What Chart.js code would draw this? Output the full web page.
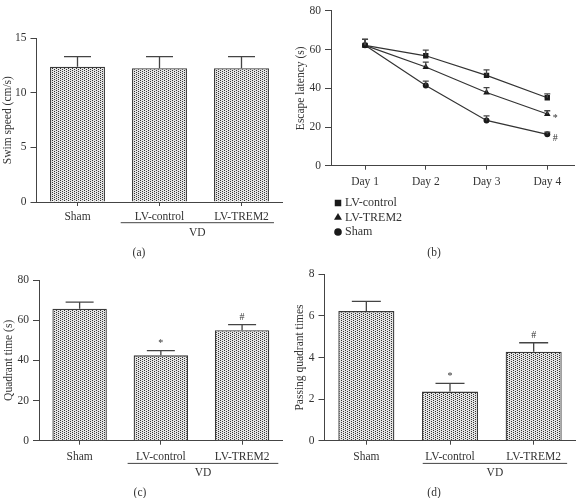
<!DOCTYPE html>
<html>
<head>
<meta charset="utf-8">
<script src="https://cdn.jsdelivr.net/npm/chart.js@4.4.0/dist/chart.umd.min.js"></script>
<style>
  body { margin: 0; background: #fff; }
  #wrap { position: relative; width: 578px; height: 498px; }
  canvas { position: absolute; }
</style>
</head>
<body>
<div id="wrap">
  <canvas id="chartA" width="289" height="260" style="left:0;top:0;width:289px;height:260px"></canvas>
  <canvas id="chartB" width="289" height="260" style="left:289px;top:0;width:289px;height:260px"></canvas>
  <canvas id="chartC" width="289" height="238" style="left:0;top:260px;width:289px;height:238px"></canvas>
  <canvas id="chartD" width="289" height="238" style="left:289px;top:260px;width:289px;height:238px"></canvas>
</div>
<script>
// groups for the bar panels
const groups = ['Sham', 'LV-control', 'LV-TREM2'];

// (a) swim speed
const swimSpeed = [12.4, 12.25, 12.25];
const swimSpeedErr = [0.92, 1.07, 1.07];

// (b) escape latency per day
const days = ['Day 1', 'Day 2', 'Day 3', 'Day 4'];
const latencyControl = [62.2, 56.8, 46.7, 35.1];
const latencyControlErr = [3.1, 2.9, 2.8, 2.0];
const latencyTrem2 = [62.2, 51.0, 37.8, 26.7];
const latencyTrem2Err = [3.1, 2.5, 2.5, 1.7];
const latencySham = [62.2, 41.4, 23.4, 16.2];
const latencyShamErr = [3.1, 2.3, 2.3, 1.1];
const latencyTrem2Marks = ['', '', '', '*'];
const latencyShamMarks = ['', '', '', '#'];

// (c) quadrant time
const quadrantTime = [65.7, 42.5, 55.0];
const quadrantTimeErr = [3.3, 2.3, 2.8];

// (d) passing quadrant times
const passingTimes = [6.23, 2.36, 4.28];
const passingTimesErr = [0.47, 0.4, 0.43];

const groupMarks = ['', '*', '#'];

const FONT = "'Liberation Serif', 'DejaVu Serif', serif";
const FS = 11.5;
const INK = '#333';
const AXIS = '#444';

function dotPattern() {
    // staggered stipple, like the dotted fill in the figure
    const c = document.createElement('canvas');
    c.width = 4; c.height = 4;
    const g = c.getContext('2d');
    g.fillStyle = '#e4e4e4';
    g.fillRect(0, 0, 4, 4);
    g.fillStyle = '#333';
    g.fillRect(0, 0, 1, 1);
    g.fillRect(2, 1, 1, 1);
    g.fillRect(0, 2, 1, 1);
    g.fillRect(2, 3, 1, 1);
    return g.createPattern(c, 'repeat');
}

// vertical error bars (upward) + significance marks
const errorBarPlugin = {
    id: 'errorBars',
    afterDatasetsDraw(chart, args, opts) {
        const ctx = chart.ctx;
        const yScale = chart.scales.y;
        ctx.save();
        ctx.strokeStyle = AXIS;
        ctx.lineWidth = 1.3;
        chart.data.datasets.forEach((ds, di) => {
            if (!ds.errors) return;
            const meta = chart.getDatasetMeta(di);
            meta.data.forEach((el, i) => {
                const raw = ds.data[i];
                const val = typeof raw === 'object' ? raw.y : raw;
                const top = yScale.getPixelForValue(val + ds.errors[i]);
                ctx.beginPath();
                ctx.moveTo(el.x, el.y);
                ctx.lineTo(el.x, top);
                ctx.moveTo(el.x - opts.cap, top);
                ctx.lineTo(el.x + opts.cap, top);
                ctx.stroke();
                const mark = ds.marks && ds.marks[i];
                if (mark) {
                    ctx.fillStyle = INK;
                    ctx.font = '10px ' + FONT;
                    ctx.textAlign = 'center';
                    ctx.textBaseline = 'middle';
                    const y0 = opts.markAbove ? top : el.y;
                    ctx.fillText(mark, el.x + opts.markDx, y0 + opts.markDy);
                }
            });
        });
        ctx.restore();
    }
};

// "VD" bracket under the two LV groups, plus panel letter
const bracketPlugin = {
    id: 'vdBracket',
    afterDraw(chart, args, opts) {
        const ctx = chart.ctx;
        ctx.save();
        ctx.fillStyle = INK;
        ctx.font = FS + 'px ' + FONT;
        ctx.textAlign = 'center';
        ctx.textBaseline = 'middle';
        if (opts.label) {
            const x = chart.scales.x;
            const p0 = x.getPixelForValue(0);
            const step = x.getPixelForValue(1) - p0;
            const x0 = p0 + opts.from * step;
            const x1 = p0 + opts.to * step;
            const y = x.top + opts.dy;
            ctx.strokeStyle = AXIS;
            ctx.lineWidth = 1;
            ctx.beginPath();
            ctx.moveTo(x0, y); ctx.lineTo(x1, y);
            ctx.stroke();
            ctx.fillText(opts.label, (x0 + x1) / 2, y + opts.textDy);
        }
        if (opts.panel) {
            ctx.fillText(opts.panel, opts.panelX, opts.panelY);
        }
        ctx.restore();
    }
};

// stacked legend under panel (b)
const stackLegendPlugin = {
    id: 'stackLegend',
    afterDraw(chart, args, opts) {
        if (!opts.show) return;
        const ctx = chart.ctx;
        ctx.save();
        ctx.font = '12px ' + FONT;
        ctx.textBaseline = 'middle';
        ctx.textAlign = 'left';
        chart.data.datasets.forEach((ds, i) => {
            const y = opts.y + i * opts.gap;
            ctx.fillStyle = '#1a1a1a';
            Chart.helpers.drawPoint(ctx, {
                pointStyle: ds.pointStyle, rotation: 0,
                radius: ds.pointRadius + 0.8, borderWidth: 0
            }, opts.x, y);
            ctx.fillStyle = INK;
            ctx.fillText(ds.label, opts.x + 7, y);
        });
        ctx.restore();
    }
};

function barPanel(id, values, errs, yMax, yStep, title, lay) {
    const ctx = document.getElementById(id).getContext('2d');
    return new Chart(ctx, {
        type: 'bar',
        data: {
            labels: groups,
            datasets: [{
                data: values,
                errors: errs,
                marks: lay.marks,
                backgroundColor: dotPattern(),
                borderColor: '#3a3a3a',
                borderWidth: 1.3,
                borderSkipped: 'bottom',
                barPercentage: 0.67,
                categoryPercentage: 1
            }]
        },
        options: {
            responsive: false,
            animation: false,
            layout: { padding: { left: 0, right: lay.right, top: lay.top, bottom: 0 } },
            plugins: {
                legend: { display: false },
                tooltip: { enabled: false },
                errorBars: { cap: lay.cap, markAbove: true, markDx: 0, markDy: -7 },
                vdBracket: {
                    label: 'VD', from: lay.from, to: lay.to, dy: lay.vdDy, textDy: 10,
                    panel: lay.panel, panelX: lay.panelX, panelY: lay.panelY
                }
            },
            scales: {
                x: {
                    grid: { drawOnChartArea: false, offset: false, color: AXIS, tickLength: 4 },
                    border: { color: AXIS, width: 1 },
                    ticks: { color: INK, font: { family: FONT, size: FS }, padding: lay.xPad, maxRotation: 0 },
                    afterFit: s => { s.height = lay.xHeight; }
                },
                y: {
                    min: 0,
                    max: yMax,
                    grid: { drawOnChartArea: false, color: AXIS, tickLength: 6 },
                    border: { color: AXIS, width: 1 },
                    ticks: { stepSize: yStep, color: INK, font: { family: FONT, size: FS }, padding: 4 },
                    title: { display: true, text: title, color: INK, font: { family: FONT, size: FS }, padding: { top: lay.titlePad, bottom: 0 } },
                    afterFit: s => { s.width = lay.left; }
                }
            }
        },
        plugins: [errorBarPlugin, bracketPlugin]
    });
}

function initLatencyChart() {
    const ctx = document.getElementById('chartB').getContext('2d');
    const pts = arr => arr.map((v, i) => ({ x: i + 1, y: v }));
    const line = (label, arr, errs, marks, style, r) => ({
        label: label,
        data: pts(arr),
        errors: errs,
        marks: marks,
        borderColor: '#333',
        borderWidth: 1.2,
        pointStyle: style,
        pointRadius: r,
        pointBackgroundColor: '#1a1a1a',
        pointBorderWidth: 0,
        tension: 0
    });
    return new Chart(ctx, {
        type: 'line',
        data: {
            datasets: [
                line('LV-control', latencyControl, latencyControlErr, null, 'rect', 3.8),
                line('LV-TREM2', latencyTrem2, latencyTrem2Err, latencyTrem2Marks, 'triangle', 3.8),
                line('Sham', latencySham, latencyShamErr, latencyShamMarks, 'circle', 3)
            ]
        },
        options: {
            responsive: false,
            animation: false,
            layout: { padding: { left: 0, right: 4, top: 5, bottom: 0 } },
            plugins: {
                legend: { display: false },
                tooltip: { enabled: false },
                errorBars: { cap: 3, markAbove: false, markDx: 8, markDy: 4 },
                vdBracket: { panel: '(b)', panelX: 145, panelY: 253 },
                stackLegend: { show: true, x: 49, y: 203, gap: 14.5 }
            },
            scales: {
                x: {
                    type: 'linear',
                    min: 0.44,
                    max: 4.44,
                    afterBuildTicks: s => { s.ticks = days.map((d, i) => ({ value: i + 1 })); },
                    grid: { drawOnChartArea: false, color: AXIS, tickLength: 4 },
                    border: { color: AXIS, width: 1 },
                    ticks: { color: INK, font: { family: FONT, size: FS }, padding: 5,
                        callback: v => days[v - 1] },
                    afterFit: s => { s.height = 94.3; }
                },
                y: {
                    min: 0,
                    max: 80,
                    grid: { drawOnChartArea: false, color: AXIS, tickLength: 6 },
                    border: { color: AXIS, width: 1 },
                    ticks: { stepSize: 20, color: INK, font: { family: FONT, size: FS }, padding: 4 },
                    title: { display: true, text: 'Escape latency (s)', color: INK, font: { family: FONT, size: FS }, padding: { top: 5, bottom: 0 } },
                    afterFit: s => { s.width = 42; }
                }
            }
        },
        plugins: [errorBarPlugin, bracketPlugin, stackLegendPlugin]
    });
}

barPanel('chartA', swimSpeed, swimSpeedErr, 15, 5, 'Swim speed (cm/s)', {
    left: 36.5, right: 6.5, top: 38.3, xHeight: 58, xPad: 4, cap: 13.5, titlePad: 1,
    marks: null, from: 0.527, to: 2.396, vdDy: 20.7, panel: '(a)', panelX: 139, panelY: 253
});
initLatencyChart();
barPanel('chartC', quadrantTime, quadrantTimeErr, 80, 20, 'Quadrant time (s)', {
    left: 39, right: 6.3, top: 20, xHeight: 57.3, xPad: 5, cap: 14, titlePad: 2,
    marks: groupMarks, from: 0.591, to: 2.446, vdDy: 22.7, panel: '(c)', panelX: 140, panelY: 233
});
barPanel('chartD', passingTimes, passingTimesErr, 8, 2, 'Passing quadrant times', {
    left: 35.5, right: 2.5, top: 14.3, xHeight: 57.3, xPad: 5, cap: 14.5, titlePad: 4,
    marks: groupMarks, from: 0.674, to: 2.40, vdDy: 22.7, panel: '(d)', panelX: 145, panelY: 233
});
</script>
</body>
</html>
